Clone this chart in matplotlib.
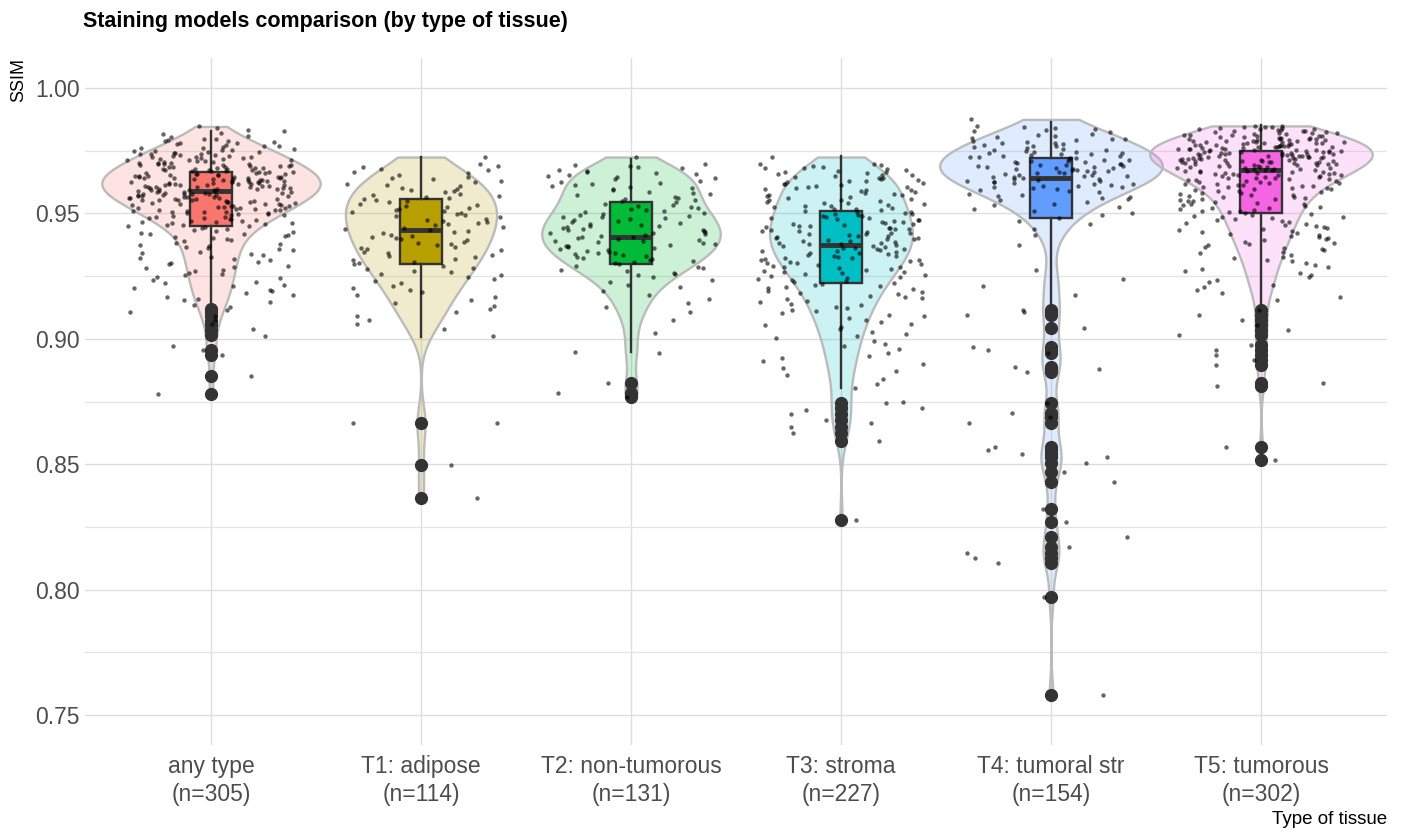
import numpy as np
import matplotlib
matplotlib.use("Agg")
import matplotlib.pyplot as plt
from matplotlib.colors import to_rgba

plt.rcParams['font.family'] = ['Liberation Sans', 'DejaVu Sans']

categories = ["any type", "T1: adipose", "T2: non-tumorous",
              "T3: stroma", "T4: tumoral str", "T5: tumorous"]
group_n = [305, 114, 131, 227, 154, 302]
colors = ["#F8766D", "#B79F00", "#00BA38", "#00BFC4", "#619CFF", "#F564E3"]

# SSIM counts per 0.005 bin, bins start at 0.900 (0.900, 0.905, ..., 0.985)
BIN_LO = 0.900
BIN_W = 0.005
any_bins = [2, 3, 5, 7, 8, 9, 10, 11, 14, 22, 31, 40, 45, 38, 29, 18, 8, 0]
t1_bins = [2, 3, 4, 5, 6, 8, 9, 10, 11, 11, 12, 11, 9, 8, 1, 0, 0, 0]
t2_bins = [1, 1, 3, 3, 5, 9, 13, 15, 16, 14, 12, 10, 12, 11, 1, 0, 0, 0]
t3_bins = [6, 7, 8, 10, 12, 15, 18, 20, 20, 19, 17, 15, 17, 16, 1, 0, 0, 0]
t4_bins = [0, 0, 0, 1, 2, 1, 0, 1, 2, 4, 7, 11, 20, 24, 22, 16, 12, 1]
t5_bins = [0, 0, 0, 4, 5, 6, 8, 10, 12, 14, 16, 19, 26, 38, 50, 47, 32, 0]

# individual low values (below the binned range)
any_tail = [0.878, 0.885, 0.8935, 0.8955, 0.897]
t1_tail = [0.8365, 0.8497, 0.8664, 0.8666]
t2_tail = [0.8768, 0.8784, 0.8824, 0.8945, 0.8948]
t3_tail = [0.8278, 0.8592, 0.8625, 0.865, 0.8665, 0.8675, 0.870, 0.8717,
           0.8725, 0.8745, 0.875, 0.8805, 0.882, 0.884, 0.8855, 0.887,
           0.8885, 0.890, 0.891, 0.8925, 0.893, 0.8945, 0.896, 0.897,
           0.898, 0.899]
t4_tail = [0.9115, 0.9105, 0.9095, 0.9043, 0.8967, 0.8955, 0.8943, 0.8888,
           0.8878, 0.8868, 0.8744, 0.8704, 0.869, 0.8664, 0.8569, 0.8555,
           0.854, 0.8529, 0.8505, 0.8469, 0.8429, 0.8321, 0.827, 0.821,
           0.817, 0.8145, 0.8125, 0.8106, 0.797, 0.758]
t5_tail = [0.9115, 0.9095, 0.9075, 0.9055, 0.9035, 0.9015, 0.8975, 0.8955,
           0.8935, 0.8915, 0.8895, 0.8825, 0.881, 0.857, 0.8515]

# boxplot statistics
box_q1 = [0.9450, 0.9300, 0.9298, 0.9221, 0.9482, 0.9502]
box_med = [0.9589, 0.9434, 0.9406, 0.9374, 0.9641, 0.9673]
box_q3 = [0.9665, 0.9557, 0.9545, 0.9510, 0.9721, 0.9749]
whis_lo = [0.9145, 0.9007, 0.8947, 0.8805, 0.9127, 0.9127]
whis_hi = [0.9830, 0.9725, 0.9717, 0.9729, 0.9864, 0.9852]
any_fliers = [0.912, 0.9105, 0.909, 0.907, 0.9055, 0.9035, 0.9015, 0.8955,
              0.8935, 0.885, 0.878]
t1_fliers = [0.8664, 0.8497, 0.8365]
t2_fliers = [0.8824, 0.8784, 0.8768]
t3_fliers = [0.8745, 0.8725, 0.870, 0.8675, 0.865, 0.8625, 0.8592, 0.8278]
t4_fliers = t4_tail
t5_fliers = t5_tail

violin_widths = [1.04, 0.72, 0.85, 0.68, 1.06, 1.06]


def expand(bins, tail):
    vals = list(tail)
    for k, c in enumerate(bins):
        lo = BIN_LO + k * BIN_W
        vals += [lo + (i + 0.5) / c * BIN_W for i in range(c)]
    return np.array(vals)


def nrd0(kde):
    # Silverman's rule of thumb, as R's bw.nrd0
    x = kde.dataset.ravel()
    sd = x.std(ddof=1)
    q75, q25 = np.percentile(x, [75, 25])
    h = 0.9 * min(sd, (q75 - q25) / 1.34) * len(x) ** -0.2
    return h / sd


def spread(idx):
    # scrambled horizontal offsets in [-0.5, 0.5) for the jittered dots
    v = np.sin(idx * 12.9898 + 78.233) * 43758.5453
    return v - np.floor(v) - 0.5


data = [expand(any_bins, any_tail), expand(t1_bins, t1_tail),
        expand(t2_bins, t2_tail), expand(t3_bins, t3_tail),
        expand(t4_bins, t4_tail), expand(t5_bins, t5_tail)]
fliers = [any_fliers, t1_fliers, t2_fliers, t3_fliers, t4_fliers, t5_fliers]
positions = np.arange(1, len(categories) + 1)

fig = plt.figure(figsize=(14.04, 8.36), dpi=100)
ax = fig.add_axes([85 / 1404, 1 - 745 / 836, 1302 / 1404, 687 / 836])

# violins
vp = ax.violinplot(data, positions=positions, widths=violin_widths,
                   showextrema=False, bw_method=nrd0, points=400)
for body, col in zip(vp['bodies'], colors):
    body.set_facecolor(to_rgba(col, 0.2))
    body.set_edgecolor('#BBBBBB')
    body.set_linewidth(1.7)
    body.set_alpha(None)
    body.set_zorder(1)

# boxes
stats = []
for i in range(len(categories)):
    stats.append(dict(q1=box_q1[i], med=box_med[i], q3=box_q3[i],
                      whislo=whis_lo[i], whishi=whis_hi[i],
                      fliers=fliers[i]))
bp = ax.bxp(stats, positions=positions, widths=0.2, patch_artist=True,
            showcaps=False,
            boxprops=dict(edgecolor='#333333', linewidth=1.7),
            medianprops=dict(color='#333333', linewidth=3.5),
            whiskerprops=dict(color='#333333', linewidth=1.7),
            flierprops=dict(marker='o', markerfacecolor='#333333',
                            markeredgecolor='#333333', markersize=8.5))
for patch, col in zip(bp['boxes'], colors):
    patch.set_facecolor(col)
for art in bp['boxes'] + bp['medians'] + bp['whiskers'] + bp['fliers']:
    art.set_zorder(2)

# jittered points
k = 0
for pos, vals in zip(positions, data):
    idx = np.arange(k, k + len(vals))
    xs = pos + spread(idx) * 0.8
    ax.scatter(xs, vals, s=10, color='black', alpha=0.6, linewidths=0,
               zorder=3)
    k += len(vals)

ax.set_xlim(0.4, 6.6)
ax.set_ylim(0.738, 1.012)
ax.set_yticks([0.75, 0.80, 0.85, 0.90, 0.95, 1.00])
ax.set_yticklabels(["0.75", "0.80", "0.85", "0.90", "0.95", "1.00"])
ax.set_yticks([0.775, 0.825, 0.875, 0.925, 0.975], minor=True)
ax.set_xticks(positions)
ax.set_xticklabels([f"{c}\n(n={n})" for c, n in zip(categories, group_n)],
                   linespacing=1.3)
ax.grid(which='major', color='#DEDEDE', linewidth=1.0, zorder=0)
ax.grid(which='minor', axis='y', color='#E4E4E4', linewidth=0.9, zorder=0)
ax.set_axisbelow(True)
for sp in ax.spines.values():
    sp.set_visible(False)
ax.tick_params(axis='both', which='both', length=0, labelsize=16.5,
               labelcolor='#4D4D4D')
ax.tick_params(axis='x', pad=7)
ax.tick_params(axis='y', pad=4)

fig.text(83 / 1404, 1 - 22 / 836, "Staining models comparison (by type of tissue)",
         fontsize=15.5, fontweight='bold', va='center', ha='left')
fig.text(19 / 1404, 1 - 58 / 836, "SSIM", rotation=90, fontsize=13,
         va='top', ha='center')
fig.text(1387 / 1404, 1 - 820 / 836, "Type of tissue", fontsize=13.5,
         va='center', ha='right')

fig.savefig("out.png", dpi=100)
